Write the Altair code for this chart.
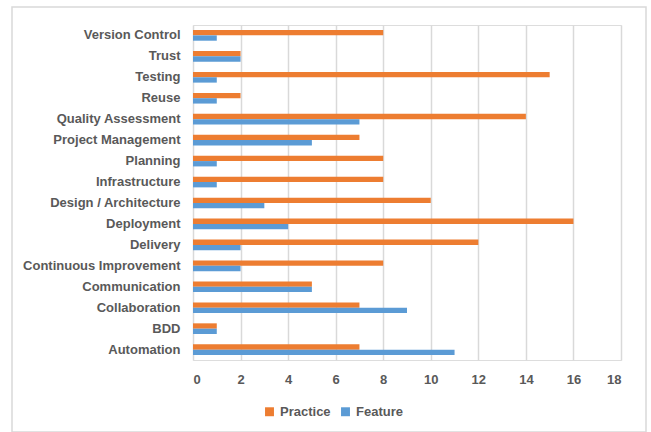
import altair as alt
import pandas as pd

categories = ["Version Control", "Trust", "Testing", "Reuse", "Quality Assessment",
              "Project Management", "Planning", "Infrastructure", "Design / Architecture",
              "Deployment", "Delivery", "Continuous Improvement", "Communication",
              "Collaboration", "BDD", "Automation"]
practice = [8, 2, 15, 2, 14, 7, 8, 8, 10, 16, 12, 8, 5, 7, 1, 7]
feature = [1, 2, 1, 1, 7, 5, 1, 1, 3, 4, 2, 2, 5, 9, 1, 11]
series = ["Practice", "Feature"]
colors = ["#ED7D31", "#5B9BD5"]
x_ticks = list(range(0, 19, 2))

rows = []
for c, p, f in zip(categories, practice, feature):
    rows.append({"category": c, "series": "Practice", "value": p})
    rows.append({"category": c, "series": "Feature", "value": f})
df = pd.DataFrame(rows)

FONT = "Liberation Sans"
GRAY = "#595959"

bars = alt.Chart(df).mark_bar().encode(
    y=alt.Y("category:N", sort=categories, title=None,
            scale=alt.Scale(paddingInner=0.49, paddingOuter=0.24),
            axis=alt.Axis(domain=False, ticks=False, grid=False, labelPadding=13,
                          labelFont=FONT, labelFontSize=13, labelFontWeight="bold",
                          labelColor=GRAY)),
    yOffset=alt.YOffset("series:N", sort=series),
    x=alt.X("value:Q", title=None, scale=alt.Scale(domain=[0, 18], nice=False),
            axis=alt.Axis(values=x_ticks, domain=False, ticks=False, grid=True,
                          gridColor="#d9d9d9", gridWidth=1.5, labelPadding=13,
                          labelFont=FONT, labelFontSize=13, labelFontWeight="bold",
                          labelColor=GRAY)),
    color=alt.Color("series:N", sort=series,
                    scale=alt.Scale(domain=series, range=colors),
                    legend=alt.Legend(title=None, orient="none", direction="horizontal",
                                      legendX=70, legendY=380, symbolType="square",
                                      symbolSize=80, symbolStrokeWidth=0,
                                      labelFont=FONT, labelFontSize=13,
                                      labelFontWeight="bold", labelColor=GRAY,
                                      columnPadding=8)),
)

border = alt.Chart(pd.DataFrame({"a": [0]})).mark_rect(
    fill=None, stroke="#d9d9d9", strokeWidth=1.5
).encode(
    x=alt.value(-181), x2=alt.value(453), y=alt.value(-18), y2=alt.value(407)
)

chart = alt.layer(border, bars).properties(
    width=428, height=335,
    autosize=alt.AutoSizeParams(type="none"),
    padding={"left": 193, "top": 25, "right": 30, "bottom": 72},
).configure_view(stroke=None).configure(background="white")

chart.save("out.html", embed_options={"renderer": "svg", "actions": False})
